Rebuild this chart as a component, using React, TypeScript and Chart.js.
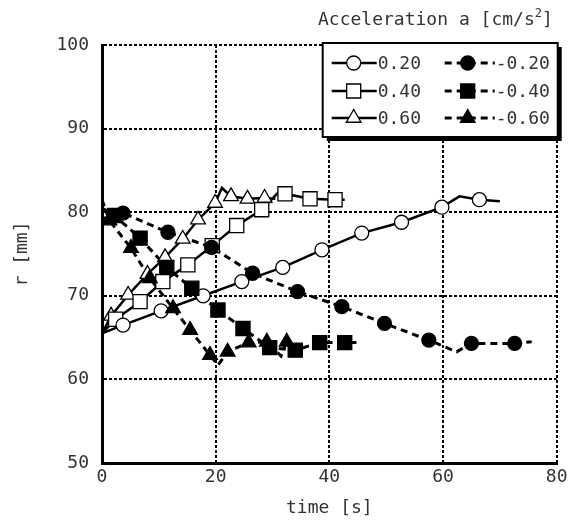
import React, { useEffect, useRef } from 'react';
import Chart from 'chart.js/auto';

// ---- data ----
const xTicks = [0, 20, 40, 60, 80];
const yTicks = [50, 60, 70, 80, 90, 100];
const seriesLabels = ['0.20', '0.40', '0.60', '-0.20', '-0.40', '-0.60'];

// line vertices [time s, r mm]
const lineP020 = [[0, 65.5], [3.7, 66.5], [10.4, 68.2], [17.8, 70.0], [24.6, 71.7], [31.8, 73.4], [38.7, 75.5], [45.7, 77.5], [52.7, 78.8], [59.8, 80.6], [62.9, 81.9], [66.4, 81.5], [70, 81.3]];
const markP020 = [[3.7, 66.5], [10.4, 68.2], [17.8, 70.0], [24.6, 71.7], [31.8, 73.4], [38.7, 75.5], [45.7, 77.5], [52.7, 78.8], [59.8, 80.6], [66.4, 81.5]];

const lineP040 = [[0, 65.5], [2.4, 67.2], [6.7, 69.3], [10.7, 71.7], [15.1, 73.7], [19.4, 76.0], [23.7, 78.4], [28.1, 80.3], [31.5, 82.7], [32.2, 82.2], [36.6, 81.6], [41, 81.5], [42.7, 81.5]];
const markP040 = [[2.4, 67.2], [6.7, 69.3], [10.7, 71.7], [15.1, 73.7], [19.4, 76.0], [23.7, 78.4], [28.1, 80.3], [32.2, 82.2], [36.6, 81.6], [41, 81.5]];

const lineP060 = [[0, 65.5], [1.6, 67.6], [4.6, 70.1], [8.0, 72.6], [11.1, 74.6], [14.2, 76.8], [16.9, 79.1], [19.9, 81.1], [21.1, 82.9], [22.7, 81.9], [25.6, 81.6], [28.6, 81.7], [30.5, 81.6]];
const markP060 = [[1.6, 67.6], [4.6, 70.1], [8.0, 72.6], [11.1, 74.6], [14.2, 76.8], [16.9, 79.1], [19.9, 81.1], [22.7, 81.9], [25.6, 81.6], [28.6, 81.7]];

const lineN020 = [[0, 79.2], [3.7, 79.9], [11.6, 77.6], [19.3, 75.8], [26.5, 72.7], [34.4, 70.5], [42.2, 68.7], [49.7, 66.7], [57.5, 64.7], [62.4, 63.3], [65.0, 64.3], [72.6, 64.3], [75.6, 64.5]];
const markN020 = [[3.7, 79.9], [11.6, 77.6], [19.3, 75.8], [26.5, 72.7], [34.4, 70.5], [42.2, 68.7], [49.7, 66.7], [57.5, 64.7], [65.0, 64.3], [72.6, 64.3]];

const lineN040 = [[0, 80.5], [2.2, 79.6], [6.7, 76.9], [11.4, 73.4], [15.8, 70.9], [20.4, 68.3], [24.8, 66.1], [29.5, 63.8], [34.0, 63.5], [38.3, 64.4], [42.7, 64.4], [45, 64.4]];
const markN040 = [[2.2, 79.6], [6.7, 76.9], [11.4, 73.4], [15.8, 70.9], [20.4, 68.3], [24.8, 66.1], [29.5, 63.8], [34.0, 63.5], [38.3, 64.4], [42.7, 64.4]];

const lineN060 = [[0, 81.5], [1.3, 79.0], [5.1, 75.7], [8.4, 72.1], [12.5, 68.5], [15.5, 65.9], [19.0, 62.9], [20.4, 61.7], [22.1, 63.3], [25.8, 64.4], [29.0, 64.5], [31.5, 62.8], [32.5, 64.5], [33.6, 63.6]];
const markN060 = [[1.3, 79.0], [5.1, 75.7], [8.4, 72.1], [12.5, 68.5], [15.5, 65.9], [19.0, 62.9], [22.1, 63.3], [25.8, 64.4], [29.0, 64.5], [32.5, 64.5]];

const FONT = '"DejaVu Sans Mono", "Liberation Mono", monospace';
const TXT = '#333';

const toXY = (arr: number[][]) => arr.map(([x, y]) => ({ x, y }));

type Kind = 'circle' | 'rect' | 'triangle';
const seriesDefs: { line: number[][]; mark: number[][]; kind: Kind; filled: boolean }[] = [
  { line: lineP020, mark: markP020, kind: 'circle', filled: false },
  { line: lineP040, mark: markP040, kind: 'rect', filled: false },
  { line: lineP060, mark: markP060, kind: 'triangle', filled: false },
  { line: lineN020, mark: markN020, kind: 'circle', filled: true },
  { line: lineN040, mark: markN040, kind: 'rect', filled: true },
  { line: lineN060, mark: markN060, kind: 'triangle', filled: true },
];
const radiusFor: Record<Kind, number> = { circle: 7, rect: 10, triangle: 8.5 };

function drawMarker(ctx: CanvasRenderingContext2D, kind: Kind, filled: boolean, x: number, y: number) {
  ctx.save();
  ctx.beginPath();
  if (kind === 'circle') {
    ctx.arc(x, y, 7, 0, Math.PI * 2);
  } else if (kind === 'rect') {
    ctx.rect(x - 7, y - 7, 14, 14);
  } else {
    const r = 8.5;
    ctx.moveTo(x, y - r);
    ctx.lineTo(x + r * 0.866, y + r * 0.5);
    ctx.lineTo(x - r * 0.866, y + r * 0.5);
    ctx.closePath();
  }
  ctx.fillStyle = filled ? '#000' : '#fff';
  ctx.fill();
  ctx.lineWidth = 1.3;
  ctx.strokeStyle = '#000';
  ctx.stroke();
  ctx.restore();
}

const overlayPlugin = {
  id: 'overlay',
  afterDraw(chart: any) {
    const ctx: CanvasRenderingContext2D = chart.ctx;
    const a = chart.chartArea;
    ctx.save();
    // title
    ctx.fillStyle = TXT;
    ctx.font = `18px ${FONT}`;
    ctx.textBaseline = 'middle';
    ctx.textAlign = 'left';
    const t1 = 'Acceleration a [cm/s';
    const tx = 318;
    const ty = 20;
    ctx.fillText(t1, tx, ty);
    const w1 = ctx.measureText(t1).width;
    ctx.font = `12px ${FONT}`;
    ctx.fillText('2', tx + w1, ty - 6);
    const w2 = ctx.measureText('2').width;
    ctx.font = `18px ${FONT}`;
    ctx.fillText(']', tx + w1 + w2, ty);

    // legend box
    const R = a.right + 1;
    const T = a.top - 2;
    const L = R - 235;
    const B = T + 94;
    ctx.fillStyle = '#000';
    ctx.fillRect(L + 4, T + 4, R - L, B - T);
    ctx.fillStyle = '#fff';
    ctx.fillRect(L, T, R - L, B - T);
    ctx.lineWidth = 2;
    ctx.strokeStyle = '#000';
    ctx.strokeRect(L, T, R - L, B - T);

    const rows = [T + 20, T + 48, T + 75];
    for (let i = 0; i < 6; i++) {
      const def = seriesDefs[i];
      const col = i < 3 ? 0 : 1;
      const y = rows[i % 3];
      const x0 = col === 0 ? L + 9 : L + 122;
      const x1 = col === 0 ? L + 54 : L + 172;
      const mx = col === 0 ? L + 31 : L + 145;
      ctx.save();
      ctx.beginPath();
      ctx.lineWidth = col === 0 ? 2.5 : 3;
      ctx.setLineDash(col === 0 ? [] : [7, 5]);
      ctx.moveTo(x0, y);
      ctx.lineTo(x1, y);
      ctx.stroke();
      ctx.restore();
      drawMarker(ctx, def.kind, def.filled, mx, y);
      ctx.fillStyle = TXT;
      ctx.font = `18px ${FONT}`;
      ctx.textBaseline = 'middle';
      ctx.fillText(seriesLabels[i], x1 + 1, y + 1);
    }
    ctx.restore();
  },
};

export default function App() {
  const ref = useRef<HTMLCanvasElement>(null);
  useEffect(() => {
    if (!ref.current) return;
    const datasets: any[] = [];
    seriesDefs.forEach((d, i) => {
      datasets.push({
        label: seriesLabels[i] + ' marks',
        data: toXY(d.mark),
        showLine: false,
        pointStyle: d.kind,
        pointRadius: radiusFor[d.kind],
        pointBackgroundColor: d.filled ? '#000' : '#fff',
        pointBorderColor: '#000',
        pointBorderWidth: 1.3,
        order: d.filled ? 0 : 1,
      });
    });
    seriesDefs.forEach((d, i) => {
      datasets.push({
        label: seriesLabels[i],
        data: toXY(d.line),
        showLine: true,
        borderColor: '#000',
        borderWidth: d.filled ? 3 : 2.5,
        borderDash: d.filled ? [7, 5] : [],
        pointRadius: 0,
        tension: 0,
        order: 2,
      });
    });
    const chart = new Chart(ref.current, {
      type: 'scatter',
      data: { datasets },
      options: {
        animation: false,
        responsive: false,
        layout: { padding: { top: 45, right: 7, bottom: 0, left: 0 } },
        plugins: { legend: { display: false }, tooltip: { enabled: false } },
        scales: {
          x: {
            type: 'linear',
            min: xTicks[0],
            max: xTicks[xTicks.length - 1],
            afterBuildTicks: (s: any) => { s.ticks = xTicks.map((v) => ({ value: v })); },
            afterFit: (s: any) => { s.height = 58; s.paddingRight = 0; },
            ticks: { color: TXT, font: { family: FONT, size: 18 }, padding: 4, maxRotation: 0 },
            grid: { color: '#000', lineWidth: 2, drawTicks: false },
            border: { display: true, color: '#000', width: 3, dash: [3, 2] },
            title: { display: true, text: 'time [s]', color: TXT, font: { family: FONT, size: 18 }, padding: { top: 0, bottom: 2 } },
          },
          y: {
            type: 'linear',
            min: yTicks[0],
            max: yTicks[yTicks.length - 1],
            afterBuildTicks: (s: any) => { s.ticks = yTicks.map((v) => ({ value: v })); },
            afterFit: (s: any) => { s.width = 102; },
            ticks: { color: TXT, font: { family: FONT, size: 18 }, padding: 13 },
            grid: { color: '#000', lineWidth: 2, drawTicks: false },
            border: { display: true, color: '#000', width: 3, dash: [3, 2] },
            title: { display: true, text: 'r [mm]', color: TXT, font: { family: FONT, size: 18 }, padding: { top: 12, bottom: 0 } },
          },
        },
      },
      plugins: [overlayPlugin],
    });
    return () => chart.destroy();
  }, []);
  return (
    <div style={{ position: 'fixed', left: 0, top: 0, width: 568, height: 521, background: '#fff' }}>
      <canvas ref={ref} width={568} height={521} style={{ width: 568, height: 521 }} />
    </div>
  );
}
